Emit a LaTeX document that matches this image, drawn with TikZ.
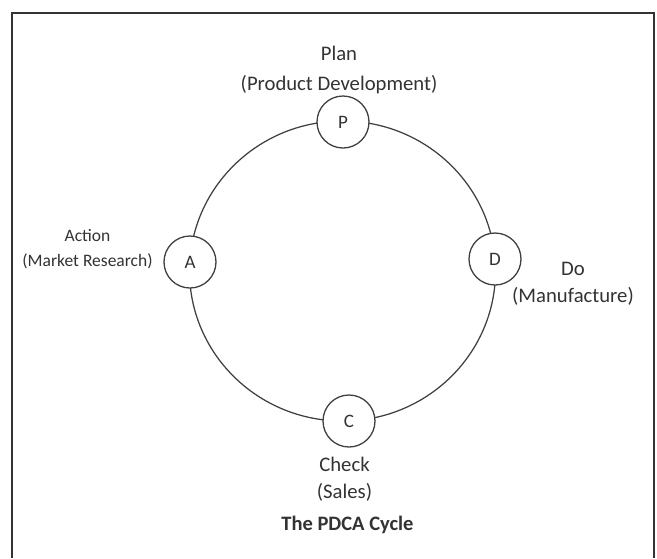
\documentclass[tikz,border=0pt]{standalone}
\usepackage{fontspec}
\setmainfont{Carlito}
\begin{document}
\begin{tikzpicture}[x=1pt,y=-1pt,
  stagenode/.style={circle,draw=black!75,line width=1.3pt,fill=white,minimum size=52pt,inner sep=0pt,font=\fontsize{19}{20}\selectfont,text=black!80},
  labeltext/.style={align=center,text=black!80,inner sep=0pt},
  bigfont/.style={font=\fontsize{20.7}{27}\selectfont},
  smallfont/.style={font=\fontsize{17.5}{25}\selectfont}]
\useasboundingbox (0,0) rectangle (657,558);
\fill[white] (0,0) rectangle (657,558);
\draw[black!80,line width=1.5pt] (12,558) -- (12,13) -- (654,13) -- (654,558);
\draw[black!75,line width=1.25pt] (342.5,271) ellipse [x radius=153, y radius=150];
\node[stagenode] (P) at (343,122) {P};
\node[stagenode] (A) at (190,262) {A};
\node[stagenode] (D) at (495,259) {D};
\node[stagenode] (C) at (349,421) {C};
\node[labeltext,font=\fontsize{20.7}{30}\selectfont] (Pl) at (339,70) {Plan\\(Product Development)};
\node[labeltext,smallfont] (Al) at (87.5,249.5) {Action\\(Market Research)};
\node[labeltext,bigfont] (Dl) at (573,283.5) {Do\\(Manufacture)};
\node[labeltext,bigfont] (Cl) at (344.5,479.5) {Check\\(Sales)};
\node[labeltext,font=\bfseries\fontsize{20.5}{24}\selectfont] (T) at (347.5,525) {The PDCA Cycle};
\end{tikzpicture}
\end{document}
